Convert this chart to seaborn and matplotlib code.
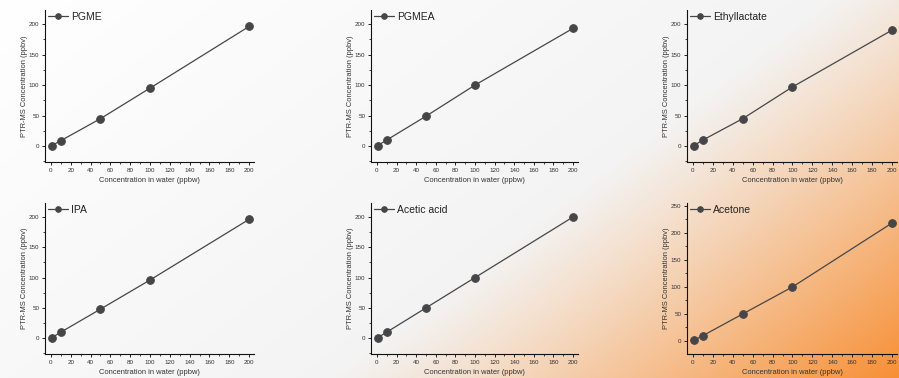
import numpy as np
import pandas as pd
import matplotlib
matplotlib.use("Agg")
import matplotlib.pyplot as plt
import seaborn as sns
from matplotlib.ticker import MultipleLocator

# ---- data ----
water_ppbw = [1, 10, 50, 100, 200]
compounds = ["PGME", "PGMEA", "Ethyllactate", "IPA", "Acetic acid", "Acetone"]
pgme = [1, 9, 45, 95, 196]
pgmea = [1, 10, 49, 100, 193]
ethyllactate = [1, 10, 45, 97, 190]
ipa = [1, 10, 48, 96, 196]
acetic_acid = [1, 10, 50, 100, 200]
acetone = [1, 10, 50, 100, 218]
series = [pgme, pgmea, ethyllactate, ipa, acetic_acid, acetone]
x_ticks = [0, 20, 40, 60, 80, 100, 120, 140, 160, 180, 200]

sns.set_theme(style="ticks")
plt.rcParams['font.family'] = ['Liberation Sans', 'DejaVu Sans']

W, H = 899, 378
fig = plt.figure(figsize=(W / 100, H / 100), dpi=100)

# background gradient (white/grey -> orange toward bottom-right)
bg = fig.add_axes([0, 0, 1, 1], zorder=-10)
yy, xx = np.mgrid[0:H, 0:W]
t = (0.606 * xx + 0.795 * yy - 500) / (845 - 500)
t = np.clip(t, 0, 1) ** 1.1
g = np.clip((0.606 * xx + 0.795 * yy) / 500, 0, 1)
base_img = (1 - g[..., None]) * np.array([1, 1, 1]) + g[..., None] * np.array([0.955, 0.955, 0.955])
orange = np.array([247, 143, 52]) / 255.0
img = base_img * (1 - t[..., None]) + orange * t[..., None]
bg.imshow(img, aspect='auto', extent=[0, 1, 0, 1], origin='upper')
bg.set_axis_off()

lefts = [45, 371, 687]
widths = [209, 207, 210]
rows = [(10, 162), (203, 354)]

dark = "#464648"
for i, (name, vals) in enumerate(zip(compounds, series)):
    r, c = divmod(i, 3)
    top, bottom = rows[r]
    ax = fig.add_axes([lefts[c] / W, 1 - bottom / H, widths[c] / W, (bottom - top) / H])
    ax.set_facecolor('none')
    df = pd.DataFrame({"x": water_ppbw, "y": vals})
    sns.lineplot(data=df, x="x", y="y", ax=ax, marker='o', color=dark,
                 markersize=5.5, markeredgecolor=dark, linewidth=0.9, label=name)
    ax.set_xlim(-6, 205)
    if name == "Acetone":
        ax.set_ylim(-24, 255)
    else:
        ax.set_ylim(-26, 223)
    ax.set_xticks(x_ticks)
    ax.xaxis.set_minor_locator(MultipleLocator(10))
    ax.yaxis.set_major_locator(MultipleLocator(50))
    ax.yaxis.set_minor_locator(MultipleLocator(25))
    ax.tick_params(which='major', direction='out', length=2.5, width=0.7, labelsize=4.5,
                   pad=1.5, colors='#222222', labelcolor='#333333')
    ax.tick_params(which='minor', direction='out', length=1.5, width=0.6, colors='#222222')
    for s in ['top', 'right']:
        ax.spines[s].set_visible(False)
    for s in ['left', 'bottom']:
        ax.spines[s].set_linewidth(0.8)
        ax.spines[s].set_color('#111111')
    ax.set_xlabel("Concentration in water (ppbw)", fontsize=5.4, labelpad=3, color='#333333')
    ax.set_ylabel("PTR-MS Concentration (ppbv)", fontsize=5.4, labelpad=1, color='#333333')
    leg = ax.legend(loc='upper left', frameon=False, fontsize=7.5, handlelength=1.9,
                    borderaxespad=0.0, borderpad=0.1, handletextpad=0.3,
                    bbox_to_anchor=(0.01, 0.995))
    for h in leg.legend_handles:
        h.set_markersize(4)
    for txt in leg.get_texts():
        txt.set_color('#222222')

fig.savefig("out.png", dpi=100)
